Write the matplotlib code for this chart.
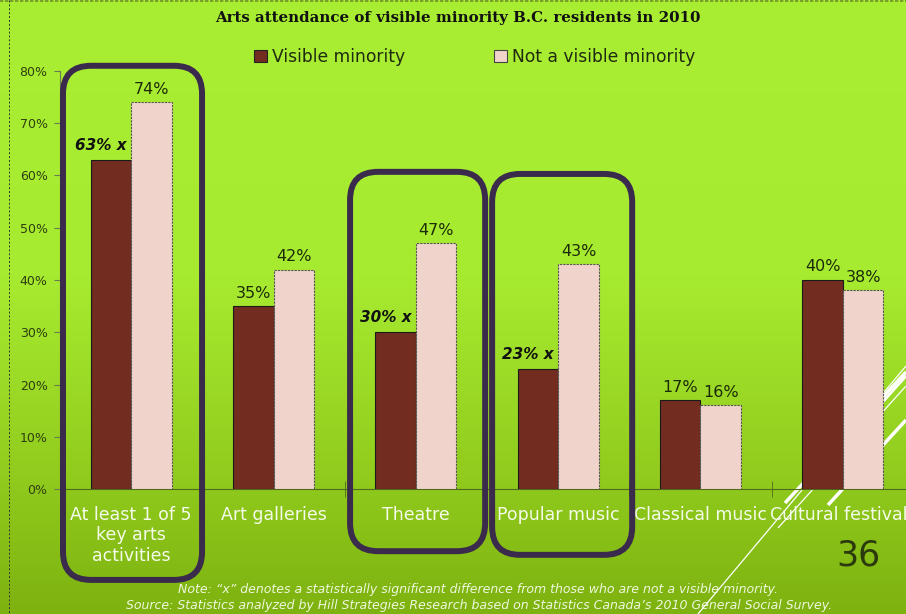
import numpy as np
import matplotlib.pyplot as plt
from matplotlib.patches import FancyBboxPatch, Patch
from matplotlib.colors import LinearSegmentedColormap

# Survey results (percent attending)
categories = ['At least 1 of 5\nkey arts\nactivities', 'Art galleries', 'Theatre',
              'Popular music', 'Classical music', 'Cultural festivals']
visible = [63, 35, 30, 23, 17, 40]
not_visible = [74, 42, 47, 43, 16, 38]
significant = [True, False, True, True, False, False]

fig = plt.figure(figsize=(9.06, 6.14), dpi=100)

# green slide background
bg = fig.add_axes([0, 0, 1, 1], zorder=-10)
grad_cmap = LinearSegmentedColormap.from_list(
    'slide', [(0.0, '#aaee33'), (0.45, '#a7eb30'), (0.75, '#93ce1f'), (1.0, '#7eb210')])
bg.imshow(np.linspace(0, 1, 256).reshape(-1, 1), cmap=grad_cmap, aspect='auto',
          extent=[0, 906, 614, 0])
bg.set_xlim(0, 906)
bg.set_ylim(614, 0)
bg.axis('off')
bg.plot([9, 9], [0, 614], color='#333333', lw=0.7, ls=(0, (2, 2)))
bg.plot([0, 906], [1, 1], color='#6f8f2a', lw=1.2, ls=(0, (2, 1)))
# decorative white strokes, lower right
for (x0, y0, x1, y1, lw) in [(698, 614, 906, 366, 0.9), (785, 503, 906, 372, 2.5),
                             (778, 528, 906, 386, 0.9), (828, 505, 906, 420, 2.5),
                             (880, 405, 906, 376, 2.0)]:
    bg.plot([x0, x1], [y0, y1], color='white', lw=lw, solid_capstyle='butt')

ax = fig.add_axes([60 / 906, 125 / 614, 854 / 906, 418 / 614])
ax.set_facecolor('none')

x = np.arange(len(categories))
w = 0.285
ax.bar(x - w / 2, visible, w, color='#722c20', edgecolor='#1a1a1a', lw=0.8, zorder=3)
ax.bar(x + w / 2, not_visible, w, color='#f0d3ca', edgecolor='#555555', lw=0.8,
       ls=(0, (2, 1)), zorder=3)

lab_color = '#1c2a08'
for i in range(len(categories)):
    if significant[i]:
        ax.annotate(f'{visible[i]}% x', xy=(x[i], visible[i]), xytext=(-3, 5),
                    textcoords='offset points', ha='right', va='bottom',
                    fontsize=11, fontweight='bold', style='italic', color='#111111')
    else:
        ax.annotate(f'{visible[i]}%', xy=(x[i] - w / 2, visible[i]), xytext=(0, 4),
                    textcoords='offset points', ha='center', va='bottom',
                    fontsize=11.5, color=lab_color)
    ax.annotate(f'{not_visible[i]}%', xy=(x[i] + w / 2, not_visible[i]), xytext=(0, 4),
                textcoords='offset points', ha='center', va='bottom',
                fontsize=11.5, color=lab_color)

ax.set_xlim(-0.5, len(categories) - 0.5)
ax.set_ylim(0, 80)
ax.set_yticks(range(0, 81, 10))
ax.set_yticklabels([f'{v}%' for v in range(0, 81, 10)], fontsize=9, color='#2e3e10')
ax.tick_params(axis='y', length=4, color='#6a7a50', pad=5)
ax.set_xticks(x)
ax.set_xticklabels(categories, fontsize=12.5, color='#f5fbea', linespacing=1.2)
ax.tick_params(axis='x', length=0, pad=12)
ax.set_xticks(np.arange(0.5, len(categories) - 0.5, 1), minor=True)
ax.tick_params(axis='x', which='minor', length=12, direction='inout', color='#4f6a1c')
for s in ['top', 'right']:
    ax.spines[s].set_visible(False)
ax.spines['left'].set_color('#6a7a50')
ax.spines['bottom'].set_color('#4f6a1c')

# rounded outlines around the significant groups
px_x = 1 / 142.3
px_y = 80 / 418
r = 28 * px_x
for (x0, x1, y0, y1) in [(-0.479, 0.498, -17.4, 81.0),
                         (1.538, 2.487, -11.9, 60.7),
                         (2.536, 3.520, -12.6, 60.3)]:
    ax.add_patch(FancyBboxPatch((x0, y0), x1 - x0, y1 - y0,
                                boxstyle=f'round,pad=0,rounding_size={r}',
                                mutation_aspect=px_y / px_x, fill=False,
                                ec='#3a2a4b', lw=4.3, clip_on=False, zorder=5))

fig.text(458 / 906, 1 - 18 / 614, 'Arts attendance of visible minority B.C. residents in 2010',
         ha='center', va='center', fontsize=10.8, fontweight='bold',
         fontfamily='DejaVu Serif', color='#111111')

handles = [Patch(fc='#722c20', ec='#222222', lw=0.8),
           Patch(fc='#f0d3ca', ec='#444444', lw=0.8)]
fig.legend(handles, ['Visible minority', 'Not a visible minority'], loc='center',
           bbox_to_anchor=(475 / 906, 1 - 57 / 614), ncol=2, frameon=False,
           fontsize=12.3, handlelength=0.75, handleheight=0.75, handletextpad=0.3,
           columnspacing=5.2, labelcolor='#1f2a10')

fig.text(858 / 906, 1 - 555 / 614, '36', ha='center', va='center', fontsize=25,
         color='#2b3a0c')
fig.text(478 / 906, 1 - 589 / 614,
         'Note: \u201cx\u201d denotes a statistically significant difference from those who are not a visible minority.',
         ha='center', va='center', fontsize=9, style='italic', color='#eef7dd')
fig.text(479 / 906, 1 - 605 / 614,
         'Source: Statistics analyzed by Hill Strategies Research based on Statistics Canada\u2019s 2010 General Social Survey.',
         ha='center', va='center', fontsize=9, style='italic', color='#eef7dd')

fig.savefig('out.png', dpi=100)
